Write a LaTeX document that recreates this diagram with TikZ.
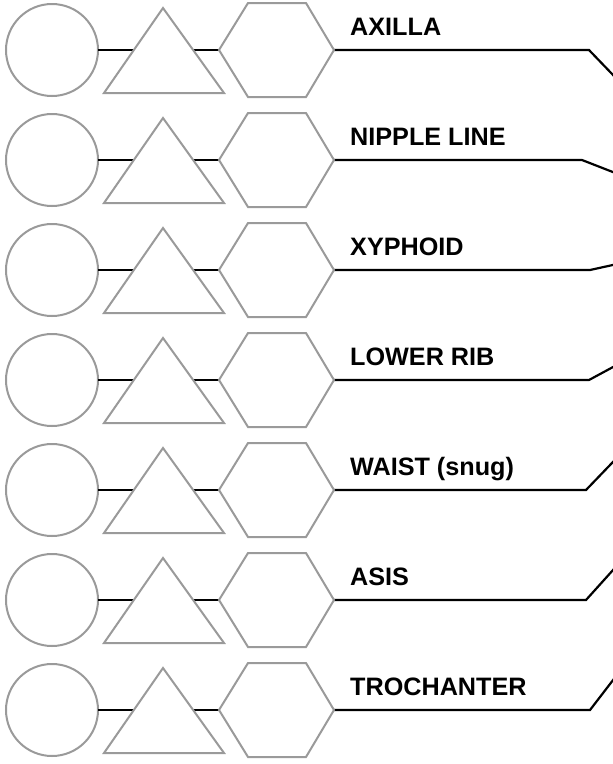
\documentclass[tikz,border=0pt]{standalone}
\usepackage{fontspec}
\setmainfont{Liberation Sans}
\definecolor{outgray}{HTML}{9A9A9A}
\begin{document}
\begin{tikzpicture}[x=1pt,y=-1pt,
  outl/.style={draw=outgray,line width=2pt,fill=white,line join=miter},
  conn/.style={draw=black,line width=2.2pt},
  circ/.style={circle,outl,minimum size=92pt,inner sep=0pt,outer sep=0pt},
  lbl/.style={anchor=base west,inner sep=0pt,font=\fontsize{25.2}{29}\selectfont\bfseries}]
\useasboundingbox (0,0) rectangle (613,764);
\foreach \i/\y/\bx/\s/\t in {1/50/589/1.04/AXILLA,
                             2/160/582/0.39/NIPPLE LINE,
                             3/270/590/-0.22/XYPHOID,
                             4/380/589/-0.54/LOWER RIB,
                             5/490/586/-1.04/{WAIST (snug)},
                             6/600/586/-1.11/ASIS,
                             7/710/590/-1.30/TROCHANTER} {
  \pgfmathsetmacro\ey{\y+\s*(623-\bx)}
  \node[circ] (c\i) at (52,\y) {};
  \coordinate (hw\i) at (219,\y);
  \coordinate (he\i) at (334,\y);
  \coordinate (b\i) at (\bx,\y);
  \coordinate (e\i) at (623,\ey);
  \draw[conn] (c\i.east) -- (hw\i);
  \draw[conn] (he\i) -- (b\i) -- (e\i);
  \path[outl] (104,\y+43) -- (163,\y-42) -- (224,\y+43) -- cycle;
  \path[outl] (hw\i) -- (248,\y-47) -- (306,\y-47) -- (he\i) -- (306,\y+47) -- (248,\y+47) -- cycle;
  \node[lbl] (t\i) at (350,\y-15) {\t};
}
\end{tikzpicture}
\end{document}
